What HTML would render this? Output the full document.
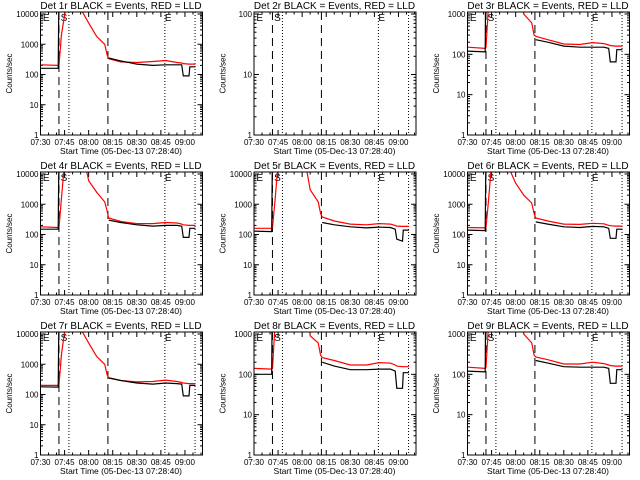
<!DOCTYPE html>
<html><head><meta charset="utf-8"><style>
html,body{margin:0;padding:0;background:#fff;}
svg{display:block;}
text{font-family:"Liberation Sans",sans-serif;fill:#000;}
</style></head><body>
<svg id="fig" width="640" height="480" viewBox="0 0 640 480" xmlns="http://www.w3.org/2000/svg"></svg>
<script>
// shared time axis (minutes after 07:30)
const times = [0,11,11.5,13,16,20,25,30,35,40,41.5,42.5,50,60,70,78,85,88,89,92.5,93,96.5];
const xTickLabels = ["07:30","07:45","08:00","08:15","08:30","08:45","09:00"];
const detNames = ["1r","2r","3r","4r","5r","6r","7r","8r","9r"];
const yMaxDecades = [4,2,3,4,4,4,4,3,3];
const H = 1e5, N = null;
const black1 = [160,160,H,N,N,N,N,N,N,N,N,350,280,220,200,210,210,210,90,90,180,180];
const red1   = [210,200,200,2000,20000,H,15000,5000,1800,1000,450,330,260,250,270,290,250,240,230,220,220,220];
const black2 = [];
const red2   = [];
const black3 = [120,115,H,N,N,N,N,N,N,N,N,230,200,160,150,150,150,140,65,65,130,130];
const red3   = [150,140,150,1500,H,H,H,H,1000,600,300,280,230,180,175,195,185,170,165,160,160,160];
const black4 = [150,150,H,N,N,N,N,N,N,N,N,300,250,210,190,200,200,190,80,80,160,160];
const red4   = [180,170,170,1500,H,H,H,6000,2500,1200,600,350,270,230,230,250,240,220,210,200,200,200];
const black5 = [130,125,H,N,N,N,N,N,N,N,N,250,210,180,165,175,170,150,70,60,140,140];
const red5   = [160,160,170,1200,H,H,H,H,3000,1200,500,380,280,220,210,230,220,200,190,185,185,185];
const black6 = [140,135,H,N,N,N,N,N,N,N,N,260,220,180,170,185,180,160,75,75,150,150];
const red6   = [170,165,170,1200,H,H,20000,5000,2000,1100,500,350,280,220,215,235,225,200,195,190,190,190];
const black7 = [180,175,H,N,N,N,N,N,N,N,N,350,290,240,220,240,230,220,90,90,200,200];
const red7   = [200,200,210,2000,30000,H,15000,5000,1800,1000,450,360,290,260,270,300,270,250,240,230,230,230];
const black8 = [100,100,H,N,N,N,N,N,N,N,N,200,160,130,130,135,135,120,45,45,110,110];
const red8   = [140,135,140,1500,H,H,H,H,900,600,300,260,220,170,170,195,190,170,160,155,155,155];
const black9 = [120,115,H,N,N,N,N,N,N,N,N,220,190,155,150,150,150,140,60,60,130,130];
const red9   = [150,140,150,1500,H,H,H,H,1000,600,300,270,230,180,180,200,185,170,165,160,160,160];
const blackSeries = [black1,black2,black3,black4,black5,black6,black7,black8,black9];
const redSeries = [red1,red2,red3,red4,red5,red6,red7,red8,red9];
const dashedTimes = [11.5,42];
const dottedTimes = [17.7,77.5,96.3];

const NS="http://www.w3.org/2000/svg";
const svg=document.getElementById('fig');
function mk(tag,attrs,parent){const e=document.createElementNS(NS,tag);for(const k in attrs)e.setAttribute(k,attrs[k]);(parent||svg).appendChild(e);return e;}

for(let p=0;p<9;p++){
  const col=p%3,row=Math.floor(p/3);
  const ox=col*213.5, oy=row*160;
  const L=ox+40.5,R=ox+202.5,T=oy+12,B=oy+135;
  const dec=yMaxDecades[p];
  const yTop=oy+14;
  const pxDec=(B-yTop)/dec;
  const xS=m=>L+m*1.605;
  const yS=v=>B-Math.log10(Math.max(v,1e-3))*pxDec;
  const g=mk('g',{});
  
  
  const cp=mk('clipPath',{id:'c'+p},g);
  mk('rect',{x:L,y:T,width:R-L,height:B-T},cp);
  const t=mk('text',{x:ox+121,y:oy+9,'font-size':'10','text-anchor':'middle'},g);
  t.textContent='Det '+detNames[p]+' BLACK = Events, RED = LLD';
  
  
  const yt=mk('text',{x:0,y:0,'font-size':'8','text-anchor':'middle',transform:`translate(${ox+12},${(T+B)/2}) rotate(-90)`},g);
  yt.textContent='Counts/sec';
  
  
  const xt=mk('text',{x:ox+121,y:oy+154,'font-size':'8.5','text-anchor':'middle'},g);
  xt.textContent='Start Time (05-Dec-13 07:28:40)';
  
  
  for(let d=0;d<=dec;d++){
    const y=yS(Math.pow(10,d));
    mk('line',{x1:L,x2:L+5,y1:y,y2:y,stroke:'#000'},g);
    mk('line',{x1:R,x2:R-5,y1:y,y2:y,stroke:'#000'},g);
    const lb=mk('text',{x:L-2,y:y+3,'font-size':'8','text-anchor':'end'},g);
    lb.textContent=String(Math.pow(10,d));
    
    
    if(d<dec){for(let k=2;k<10;k++){const yy=yS(k*Math.pow(10,d));
      mk('line',{x1:L,x2:L+2.5,y1:yy,y2:yy,stroke:'#000'},g);
      mk('line',{x1:R,x2:R-2.5,y1:yy,y2:yy,stroke:'#000'},g);}}
  }
  for(let m=0;m<=100;m+=5){const x=xS(m);const len=(m%15===0)?5:2.5;
    mk('line',{x1:x,x2:x,y1:B,y2:B-len,stroke:'#000'},g);
    mk('line',{x1:x,x2:x,y1:T,y2:T+len,stroke:'#000'},g);}
  xTickLabels.forEach((s,i)=>{const lb=mk('text',{x:xS(i*15),y:B+10,'font-size':'8','text-anchor':'middle'},g);lb.textContent=s;
    
    });
  dashedTimes.forEach(m=>{const l=mk('line',{x1:xS(m),x2:xS(m),y1:T,y2:B,stroke:'#000','stroke-dasharray':'8,5'},g);
    
    });
  dottedTimes.forEach(m=>{const l=mk('line',{x1:xS(m),x2:xS(m),y1:T,y2:B,stroke:'#000','stroke-dasharray':'1,2'},g);
    
    });
  [['E',1.5],['S',12.5],['E',77.5]].forEach(([c,m])=>{const lb=mk('text',{x:xS(m),y:T+9,'font-size':'10'},g);lb.textContent=c;
    
    });
  [[redSeries[p],'#f00','red-lld-line'],[blackSeries[p],'#000','black-events-line']].forEach(([arr,c,nm])=>{
    if(!arr.length)return;
    let segs=[],cur=[];
    arr.forEach((v,i)=>{if(v===null){if(cur.length)segs.push(cur);cur=[];}else cur.push(xS(times[i]).toFixed(1)+','+yS(v).toFixed(1));});
    if(cur.length)segs.push(cur);
    segs.forEach(s=>{
      const pl=mk('polyline',{points:s.join(' '),fill:'none',stroke:c,'stroke-width':'1.2','clip-path':`url(#c${p})`},g);
      
      
    });
  });
  const box=mk('rect',{x:L,y:T,width:R-L,height:B-T,fill:'none',stroke:'#000'},g);
  
  
}
</script>
</body></html>
